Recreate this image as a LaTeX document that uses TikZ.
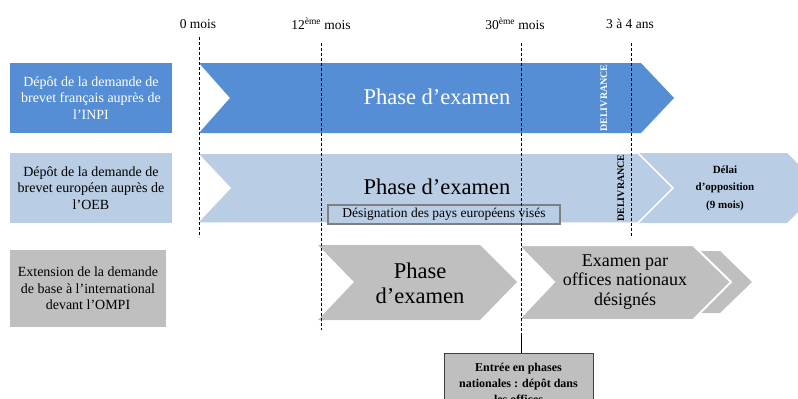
\documentclass[tikz,border=0pt]{standalone}
\usepackage{fontspec}
\setmainfont{Liberation Serif}
\definecolor{bleufonce}{HTML}{558ED5}
\definecolor{bleuclair}{HTML}{B9CDE5}
\definecolor{grisclair}{HTML}{BFBFBF}
\definecolor{grisbord}{HTML}{7F7F7F}
\begin{document}
\begin{tikzpicture}[x=1pt,y=-1pt,line join=miter,
	depot/.style={align=center,inner sep=0pt,minimum width=162pt,minimum height=70pt,font=\fontsize{14}{16.5}\selectfont},
	phase/.style={align=center,inner sep=0pt,font=\fontsize{22.5}{25}\selectfont},
	petit/.style={align=center,inner sep=0pt,font=\bfseries\fontsize{11}{17.5}\selectfont},
	deliv/.style={rotate=90,inner sep=0pt,font=\bfseries\fontsize{10}{12}\selectfont},
	mois/.style={inner sep=0pt,font=\fontsize{13.5}{16}\selectfont},
	tiret/.style={line width=0.8pt,dash pattern=on 3pt off 2pt}]
	\clip (0,0) rectangle (798,399);
	\node[mois] (m0) at (198,24) {0 mois};
	\node[mois] (m12) at (321,24) {12\textsuperscript{ème} mois};
	\node[mois] (m30) at (515,24) {30\textsuperscript{ème} mois};
	\node[mois] (m48) at (630,24) {3 à 4 ans};
	\coordinate (t0) at (199,37);   \coordinate (b0) at (199,237);
	\coordinate (t12) at (321,43);  \coordinate (b12) at (321,330);
	\coordinate (t30) at (521,43);  \coordinate (b30) at (521,333);
	\coordinate (t48) at (631,43);  \coordinate (b48) at (631,238);
	% ligne INPI
	\node[depot,fill=bleufonce,text=white] (inpi) at (91,98) {Dépôt de la demande de\\brevet français auprès de\\l’INPI};
	\fill[bleufonce] (199,63)--(641,63)--(674,98)--(641,133)--(199,133)--(230,98)--cycle;
	\node[phase,text=white] (exinpi) at (437,97) {Phase d’examen};
	\node[deliv,text=white] (delinpi) at (604,98) {DELIVRANCE};
	% ligne OEB
	\node[depot,fill=bleuclair] (oeb) at (91,188) {Dépôt de la demande de\\brevet européen auprès de\\l’OEB};
	\fill[bleuclair] (638,153)--(787,153)--(822,188)--(787,223)--(638,223)--(660,188)--cycle;
	\filldraw[fill=bleuclair,draw=white,line width=1.5pt] (197,153)--(638,153)--(673,188)--(638,223)--(197,223)--(230,188)--cycle;
	\node[phase] (exoeb) at (437,187) {Phase d’examen};
	\node[draw=grisbord,line width=1.6pt,fill=bleuclair,inner sep=0pt,minimum width=232pt,minimum height=19pt,font=\fontsize{13.5}{15}\selectfont] (pays) at (444,214.5) {Désignation des pays européens visés};
	\node[deliv] (deloeb) at (621,188) {DELIVRANCE};
	\node[petit] (oppo) at (725,188) {Délai\\d’opposition\\(9 mois)};
	% ligne OMPI
	\node[depot,fill=grisclair,minimum width=156pt,minimum height=77pt] (ompi) at (88,288.5) {Extension de la demande\\de base à l’international\\devant l’OMPI};
	\fill[grisclair] (318,245)--(480,245)--(517,282)--(480,320)--(318,320)--(354,282)--cycle;
	\node[phase] (exompi) at (420,283) {Phase\\d’examen};
	\fill[grisclair] (690,251)--(720,251)--(752,282)--(720,313)--(690,313)--(705,282)--cycle;
	\filldraw[fill=grisclair,draw=white,line width=2pt] (518,245)--(693,245)--(731,282)--(693,320)--(518,320)--(554,282)--cycle;
	\node[align=center,inner sep=0pt,font=\fontsize{18}{19.5}\selectfont] (offices) at (625,282) {Examen par\\offices nationaux\\désignés};
	\node[draw=black!75,line width=1pt,fill=grisclair,anchor=north,minimum width=149pt,minimum height=60pt,align=center,inner sep=0pt,font=\bfseries\fontsize{12}{16}\selectfont] (entree) at (518.5,353) {Entrée en phases\\nationales : dépôt dans\\les offices};
	% reperes
	\foreach \t/\b in {t0/b0,t12/b12,t30/b30,t48/b48} \draw[tiret] (\t)--(\b);
	\draw[line width=0.8pt] (b30)--(entree.north -| b30);
\end{tikzpicture}
\end{document}
